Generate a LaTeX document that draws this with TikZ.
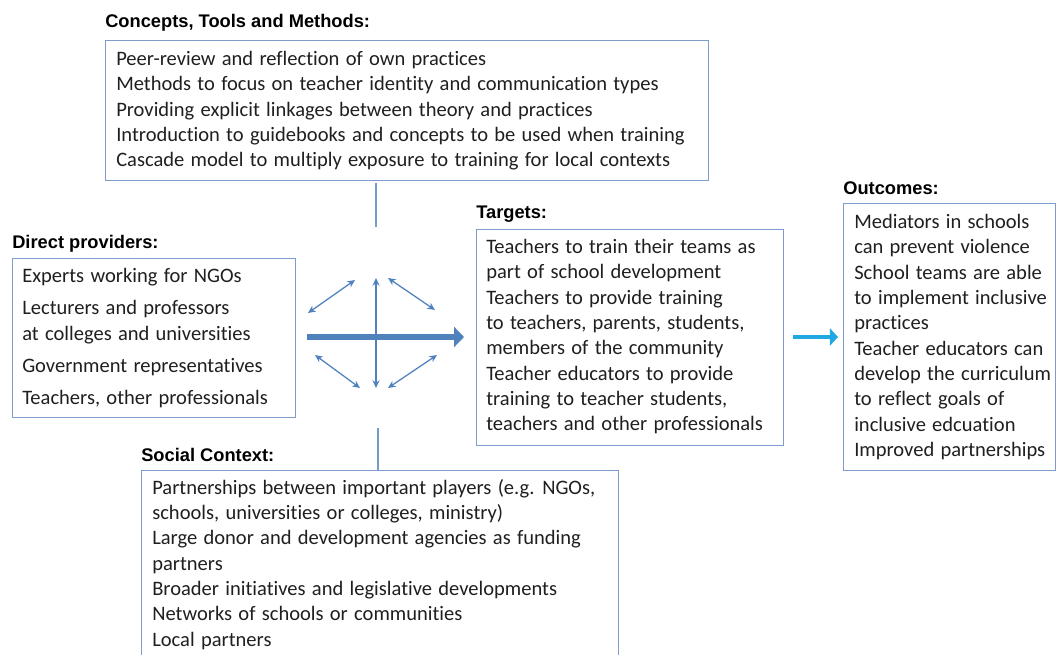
\documentclass[tikz,border=0pt]{standalone}
\usepackage{fontspec}
\setmainfont{Carlito}[Ligatures=NoCommon, WordSpace=1.35]
\newfontfamily\headfont{Liberation Sans}
\usetikzlibrary{arrows.meta}
\definecolor{boxblue}{RGB}{126,156,204}
\definecolor{arrowblue}{RGB}{79,129,189}
\definecolor{flowcyan}{RGB}{32,168,226}
\def\px{0.025cm}
\tikzset{
    box/.style={
        draw=boxblue,     % frame colour
        line width=0.8pt,
        inner sep=0,
        anchor=north west
    },
    head/.style={font=\headfont\bfseries\fontsize{13}{15}\selectfont, anchor=base west, inner sep=0},
    items/.style={font=\fontsize{14.6}{18}\selectfont, align=left, anchor=north west, inner sep=0, text=black!88},
    link/.style={draw=arrowblue, line width=0.9pt, {Stealth[length=5.5pt,width=5pt]}-{Stealth[length=5.5pt,width=5pt]}},
    stem/.style={draw=arrowblue!80, line width=0.9pt}
}

\begin{document}
\begin{tikzpicture}[x=\px, y=-\px]
\useasboundingbox (0,0) rectangle (1056,655);
\clip (0,0) rectangle (1056,655);

% frames
\node[box, minimum width=603*\px, minimum height=140*\px] (concepts) at (105,40) {};
\node[box, minimum width=283*\px, minimum height=159*\px] (providers) at (12,258) {};
\node[box, minimum width=307*\px, minimum height=216*\px] (targets) at (476,229) {};
\node[box, minimum width=212*\px, minimum height=267*\px] (outcomes) at (843,203) {};
\node[box, minimum width=477*\px, minimum height=220*\px] (social) at (141,470) {};

% headings
\node[head] (conceptshead) at (105,28) {Concepts, Tools and Methods:};
\node[head] (providershead) at (12,249) {Direct providers:};
\node[head] (targetshead) at (476,219) {Targets:};
\node[head] (outcomeshead) at (843,195) {Outcomes:};
\node[head] (socialhead) at (141,461) {Social Context:};

% lists
\node[items] (conceptslist) at (116,51) {Peer-review and reflection of own practices\\
Methods to focus on teacher identity and communication types\\
Providing explicit linkages between theory and practices\\
Introduction to guidebooks and concepts to be used when training\\
Cascade model to multiply exposure to training for local contexts};

\node[items] (providerslist) at (22,268) {Experts working for NGOs\\[5pt]
Lecturers and professors\\
at colleges and universities\\[5pt]
Government representatives\\[5pt]
Teachers, other professionals};

\node[items] (targetslist) at (486,239) {Teachers to train their teams as\\
part of school development\\
Teachers to provide training\\
to teachers, parents, students,\\
members of the community\\
Teacher educators to provide\\
training to teacher students,\\
teachers and other professionals};

\node[items] (outcomeslist) at (854,214) {Mediators in schools\\
can prevent violence\\
School teams are able\\
to implement inclusive\\
practices\\
Teacher educators can\\
develop the curriculum\\
to reflect goals of\\
inclusive edcuation\\
Improved partnerships};

\node[items] (sociallist) at (152,479) {Partnerships between important players (e.g. NGOs,\\
schools, universities or colleges, ministry)\\
Large donor and development agencies as funding\\
partners\\
Broader initiatives and legislative developments\\
Networks of schools or communities\\
Local partners};

% stems to the hub
\coordinate (upstem) at (376,183);
\coordinate (upstemend) at (376,227);
\coordinate (lowstem) at (378,428);
\draw[stem] (upstem) -- (upstemend);
\draw[stem] (lowstem) -- (lowstem |- social.north);

% hub arrows
\coordinate (N) at (376,278);
\coordinate (S) at (376,388);
\coordinate (NWa) at (308,313);
\coordinate (NWb) at (355,280);
\coordinate (NEa) at (388,278);
\coordinate (NEb) at (435,310);
\coordinate (SWa) at (315,355);
\coordinate (SWb) at (360,388);
\coordinate (SEa) at (388,388);
\coordinate (SEb) at (437,355);
\draw[link] (N) -- (S);
\draw[link] (NWa) -- (NWb);
\draw[link] (NEa) -- (NEb);
\draw[link] (SWa) -- (SWb);
\draw[link] (SEa) -- (SEb);

\coordinate (mainstart) at (307,337);
\coordinate (mainend) at (464,337);
\draw[arrowblue, line width=4.3pt, -{Triangle[length=7pt,width=14pt]}] (mainstart) -- (mainend);

\coordinate (flowstart) at (793,337);
\coordinate (flowend) at (838,337);
\draw[flowcyan, line width=2.8pt, -{Triangle[length=5.7pt,width=12pt]}] (flowstart) -- (flowend);

\end{tikzpicture}
\end{document}
